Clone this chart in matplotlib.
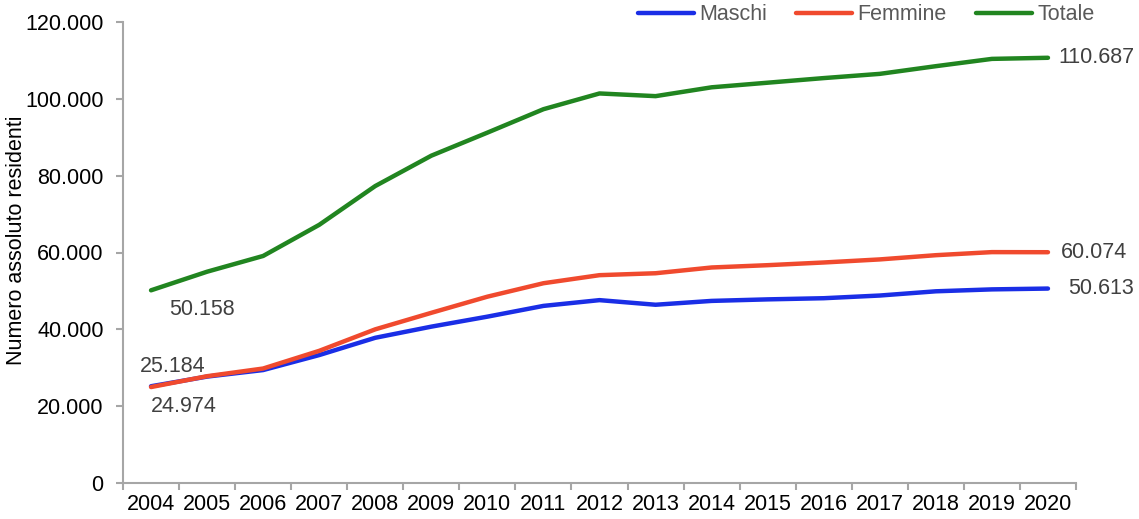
import matplotlib
matplotlib.use("Agg")
import matplotlib.pyplot as plt
from matplotlib.ticker import FuncFormatter, FixedLocator

years = list(range(2004, 2021))
maschi = [25184, 27700, 29400, 33300, 37800, 40700, 43300, 46100, 47600, 46400,
          47400, 47800, 48100, 48800, 49900, 50400, 50613]
femmine = [24974, 27800, 29800, 34400, 40000, 44300, 48500, 52000, 54100, 54600,
           56100, 56700, 57400, 58200, 59300, 60100, 60074]
totale = [50158, 55000, 59100, 67200, 77300, 85200, 91200, 97300, 101400, 100700,
          103000, 104200, 105400, 106500, 108500, 110400, 110687]

C_M, C_F, C_T = "#1a2ee6", "#f04a2e", "#218520"
plt.rcParams["font.family"] = ["Liberation Sans", "DejaVu Sans"]
FS = 15.5

fig = plt.figure(figsize=(11.39, 5.19), dpi=100)
ax = fig.add_axes([123 / 1139, 1 - 483 / 519, (1076 - 123) / 1139, (483 - 22) / 519])

x = list(range(len(years)))
ax.plot(x, maschi, color=C_M, lw=3.2, label="Maschi", solid_capstyle="round")
ax.plot(x, femmine, color=C_F, lw=3.2, label="Femmine", solid_capstyle="round")
ax.plot(x, totale, color=C_T, lw=3.2, label="Totale", solid_capstyle="round")

ax.set_xlim(-0.5, len(years) - 0.5)
ax.set_ylim(0, 120000)
ax.set_yticks(range(0, 120001, 20000))
ax.yaxis.set_major_formatter(FuncFormatter(lambda v, p: f"{int(v):,}".replace(",", ".")))
ax.set_xticks(x)
ax.set_xticklabels([str(y) for y in years])
ax.xaxis.set_minor_locator(FixedLocator([i - 0.5 for i in range(len(years) + 1)]))
ax.tick_params(axis="x", which="major", length=0, pad=8, labelsize=FS, colors="black")
ax.tick_params(axis="x", which="minor", length=5, width=1.5, color="#a6a6a6")
ax.tick_params(axis="y", length=5, width=1.5, color="#a6a6a6", labelsize=FS, pad=9)
for s in ["top", "right"]:
    ax.spines[s].set_visible(False)
for s in ["left", "bottom"]:
    ax.spines[s].set_color("#a6a6a6")
    ax.spines[s].set_linewidth(1.5)

fig.text(17 / 1139, 1 - 240 / 519, "Numero assoluto residenti", rotation=90,
         ha="center", va="center", fontsize=FS)

lab = dict(textcoords="offset pixels", fontsize=FS, color="#404040", va="center")
ax.annotate("50.158", (0, totale[0]), xytext=(51, -19), ha="center", **lab)
ax.annotate("25.184", (0, maschi[0]), xytext=(22, 20), ha="center", **lab)
ax.annotate("24.974", (0, femmine[0]), xytext=(33, -19), ha="center", **lab)
ax.annotate("110.687", (16, totale[-1]), xytext=(10, 0), ha="left", **lab)
ax.annotate("60.074", (16, femmine[-1]), xytext=(13, 0), ha="left", **lab)
ax.annotate("50.613", (16, maschi[-1]), xytext=(20, 0), ha="left", **lab)

leg = ax.legend(loc="center left", bbox_to_anchor=(638 / 1139, 1 - 15 / 519),
                bbox_transform=fig.transFigure, ncol=3, frameon=False, fontsize=FS,
                handlelength=2.6, handletextpad=0.25, columnspacing=1.35,
                borderpad=0, borderaxespad=0)
for t in leg.get_texts():
    t.set_color("#595959")

fig.savefig("out.png", dpi=100)
